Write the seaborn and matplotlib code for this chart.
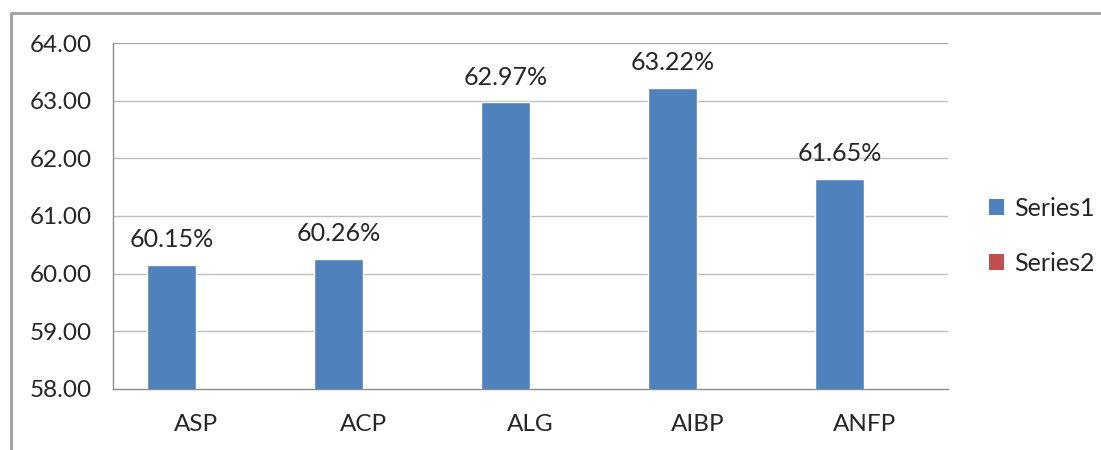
import numpy as np
import pandas as pd
import matplotlib
matplotlib.use("Agg")
import matplotlib.pyplot as plt
from matplotlib.patches import Patch
from matplotlib.lines import Line2D
import seaborn as sns

categories = ["ASP", "ACP", "ALG", "AIBP", "ANFP"]
series1 = [60.15, 60.26, 62.97, 63.22, 61.65]
series2 = [np.nan, np.nan, np.nan, np.nan, np.nan]
series_names = ["Series1", "Series2"]
colors = ["#4F81BD", "#C0504D"]
y_ticks = [58, 59, 60, 61, 62, 63, 64]

sns.set_theme(style="white")
plt.rcParams["font.family"] = ["Lato", "DejaVu Sans"]

df = pd.DataFrame({
    "category": categories * 2,
    "value": series1 + series2,
    "series": [series_names[0]] * len(categories) + [series_names[1]] * len(categories),
})

fig = plt.figure(figsize=(11.01, 4.50), dpi=100)
ax = fig.add_axes([0.1026, 0.1356, 0.861 - 0.1026, 0.9044 - 0.1356])

sns.barplot(data=df, x="category", y="value", hue="series", order=categories,
            hue_order=series_names, palette=colors, width=0.587, dodge=True,
            saturation=1, errorbar=None, legend=False, ax=ax, zorder=3)

ax.set_ylim(58, 64)
ax.set_xlim(-0.5, len(categories) - 0.5)
ax.set_yticks(y_ticks)
ax.set_yticklabels([f"{v:.2f}" for v in y_ticks])
ax.set_xlabel("")
ax.set_ylabel("")

# horizontal gridlines
for v in y_ticks[1:]:
    ax.axhline(v, color="#A6A6A6" if v == 64 else "#BFBFBF",
               lw=1.6 if v == 64 else 1.0, zorder=1)

for side in ["top", "right"]:
    ax.spines[side].set_visible(False)
for side in ["left", "bottom"]:
    ax.spines[side].set_color("#8C8C8C")
    ax.spines[side].set_linewidth(1.0)

ax.tick_params(axis="y", which="major", length=9, width=1, color="#8C8C8C",
               pad=6, labelsize=17.5, labelcolor="#262626")
ax.tick_params(axis="x", which="major", length=0, pad=18, labelsize=17.5,
               labelcolor="#262626")
ax.set_xticks(np.arange(-0.5, len(categories)), minor=True)
ax.tick_params(axis="x", which="minor", length=9, width=1, color="#8C8C8C")

# value labels above the Series1 bars
bar_offset = 0.587 / 4
for i, v in enumerate(series1):
    ax.annotate(f"{v:.2f}%", xy=(i - bar_offset, v), xytext=(0, 10),
                textcoords="offset points", ha="center", va="bottom",
                fontsize=18, color="#262626", zorder=4)

handles = [Patch(facecolor=c, edgecolor="none") for c in colors]
fig.legend(handles, series_names, loc="center left",
           bbox_to_anchor=(0.878, 0.476), frameon=False, fontsize=18,
           handlelength=0.6, handleheight=0.6, handletextpad=0.4,
           labelspacing=1.3, labelcolor="#262626")

# chart frame (top and left edges)
fig.add_artist(Line2D([0.0100, 1.0], [1 - 13 / 450, 1 - 13 / 450],
                      transform=fig.transFigure, color="#A0A0A0", lw=2))
fig.add_artist(Line2D([0.0100, 0.0100], [0.0, 1 - 13 / 450],
                      transform=fig.transFigure, color="#A0A0A0", lw=2))

fig.savefig("out.png", dpi=100, facecolor="white")
